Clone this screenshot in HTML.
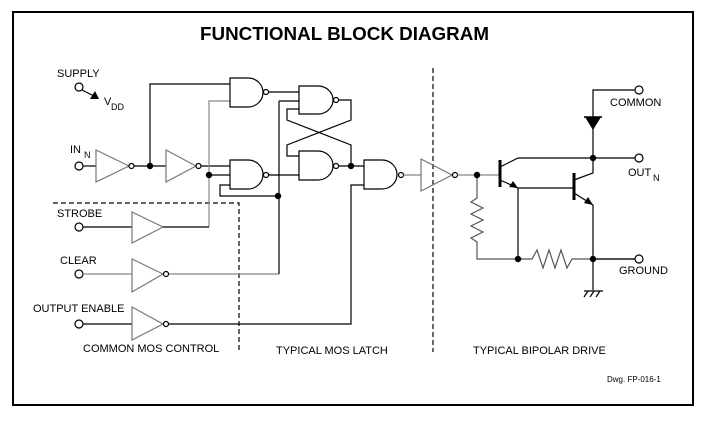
<!DOCTYPE html>
<html><head><style>html,body{margin:0;padding:0;background:#fff}svg{display:block}text{font-family:"Liberation Sans",Arial,sans-serif;fill:#000}</style></head><body>
<svg width="706" height="421" viewBox="0 0 706 421" xmlns="http://www.w3.org/2000/svg">
<rect x="13" y="12" width="680" height="393" fill="none" stroke="#000" stroke-width="2"/>
<text x="200" y="40" font-size="18" font-weight="bold" textLength="289" lengthAdjust="spacingAndGlyphs">FUNCTIONAL BLOCK DIAGRAM</text>
<g font-size="11">
<text x="57" y="77">SUPPLY</text>
<text x="104" y="105">V</text><text x="111" y="110" font-size="9">DD</text>
<text x="70" y="153">IN</text><text x="84" y="158" font-size="9">N</text>
<text x="57" y="217">STROBE</text>
<text x="60" y="264">CLEAR</text>
<text x="33" y="312">OUTPUT ENABLE</text>
<text x="83" y="352">COMMON  MOS CONTROL</text>
<text x="276" y="354">TYPICAL MOS LATCH</text>
<text x="473" y="354">TYPICAL BIPOLAR DRIVE</text>
<text x="610" y="106">COMMON</text>
<text x="628" y="176">OUT</text><text x="653" y="181" font-size="9">N</text>
<text x="619" y="274">GROUND</text>
<text x="607" y="382" font-size="8">Dwg. FP-016-1</text>
</g>
<g fill="none" stroke="#000" stroke-width="1.2">
<path d="M53 203 H239 V353" stroke-dasharray="5,3"/>
<path d="M433 68 V352" stroke-dasharray="5,3"/>
<circle cx="79" cy="87" r="4" fill="#fff"/>
<path d="M82 90 L96 97"/>
<circle cx="79" cy="166" r="4" fill="#fff"/>
<path d="M83 166 H96"/>
<path d="M96 150 L129 166 L96 182 Z" stroke="#777"/>
<circle cx="131.5" cy="166" r="2.5" fill="#fff"/>
<path d="M134 166 H166"/>
<path d="M166 150 L196 166 L166 182 Z" stroke="#777"/>
<circle cx="198.5" cy="166" r="2.5" fill="#fff"/>
<path d="M201 166 H230"/>
<path d="M150 166 V84 H230"/>
<path d="M209 227 V101 H230" stroke="#888"/>
<path d="M209 175 H230"/>
<path d="M230 185 H220 V196 H278"/>
<path d="M230 78 H248 A15 14.5 0 0 1 248 107 H230 Z"/>
<circle cx="266" cy="92" r="2.5" fill="#fff"/>
<path d="M268.5 92 H299"/>
<path d="M230 160 H248 A15 14.5 0 0 1 248 189 H230 Z"/>
<circle cx="266" cy="175" r="2.5" fill="#fff"/>
<path d="M268.5 175 H299"/>
<path d="M299 86 H318 A15 14 0 0 1 318 114 H299 Z"/>
<circle cx="336" cy="100" r="2.5" fill="#fff"/>
<path d="M338.5 100 H351 V120 L287 145 V156 H299"/>
<path d="M279 101 H299"/>
<path d="M279 274 H168" stroke="#888"/>
<path d="M279 101 V274"/>
<path d="M299 151 H318 A15 14.5 0 0 1 318 180 H299 Z"/>
<circle cx="336" cy="166" r="2.5" fill="#fff"/>
<path d="M338.5 166 H364"/>
<path d="M351 166 V145 L287 120 V109 H299"/>
<path d="M364 160 H382 A15 14.5 0 0 1 382 189 H364 Z"/>
<circle cx="401" cy="175" r="2.5" fill="#fff"/>
<path d="M364 185 H351 V324 H168"/>
<path d="M403.5 175 H421" stroke="#888"/>
<path d="M421 159 L452 175 L421 191 Z" stroke="#777"/>
<circle cx="455" cy="175" r="2.5" fill="#fff"/>
<path d="M457.5 175 H500" stroke="#888"/>
<circle cx="79" cy="227" r="4" fill="#fff"/>
<path d="M83 227 H132"/>
<path d="M132 212 L163 227 L132 243 Z" stroke="#777"/>
<path d="M163 227 H209"/>
<circle cx="79" cy="274" r="4" fill="#fff"/>
<path d="M83 274 H132" stroke="#888"/>
<path d="M132 259 L163 274 L132 292 Z" stroke="#777"/>
<circle cx="166" cy="274" r="2.5" fill="#fff"/>
<circle cx="79" cy="324" r="4" fill="#fff"/>
<path d="M83 324 H132"/>
<path d="M132 307 L163 324 L132 340 Z" stroke="#777"/>
<circle cx="166" cy="324" r="2.5" fill="#fff"/>
<path d="M500 160 V187" stroke-width="3"/>
<path d="M500 167 L518 158 H593"/>
<path d="M500 180 L518 188 H574"/>
<path d="M518 188 V259"/>
<path d="M574 173 V200" stroke-width="3"/>
<path d="M574 180 L593 173 V90 H635"/>
<path d="M574 193 L593 205 V290"/>
<path d="M593 158 H635"/>
<path d="M477 175 V198 L471 202 L483 208 L471 214 L483 220 L471 226 L483 232 L471 238 L477 242 V259 H532 L537 250 L543 268 L549 250 L555 268 L561 250 L567 268 L572 259 H635" stroke="#555"/>
<path d="M593 259 H635"/>
<path d="M584 291 H603 M588 291 L584 297 M594 291 L590 297 M600 291 L596 297"/>
<circle cx="639" cy="90" r="4" fill="#fff"/>
<circle cx="639" cy="158" r="4" fill="#fff"/>
<circle cx="639" cy="259" r="4" fill="#fff"/>
</g>
<g fill="#000">
<path d="M99 99 L90 99 L95 91 Z"/>
<path d="M585 117 H601 L593 130 Z"/>
<path d="M584 117 H602" stroke="#000" stroke-width="1.5"/>
<path d="M518 188 L509 187 L513 181 Z"/>
<path d="M593 205 L584 203 L588 197 Z"/>
<circle cx="150" cy="166" r="3.2"/>
<circle cx="209" cy="175" r="3.2"/>
<circle cx="278" cy="196" r="3.2"/>
<circle cx="351" cy="166" r="3.2"/>
<circle cx="477" cy="175" r="3.2"/>
<circle cx="593" cy="158" r="3.2"/>
<circle cx="518" cy="259" r="3.2"/>
<circle cx="593" cy="259" r="3.2"/>
</g>
</svg>
</body></html>
